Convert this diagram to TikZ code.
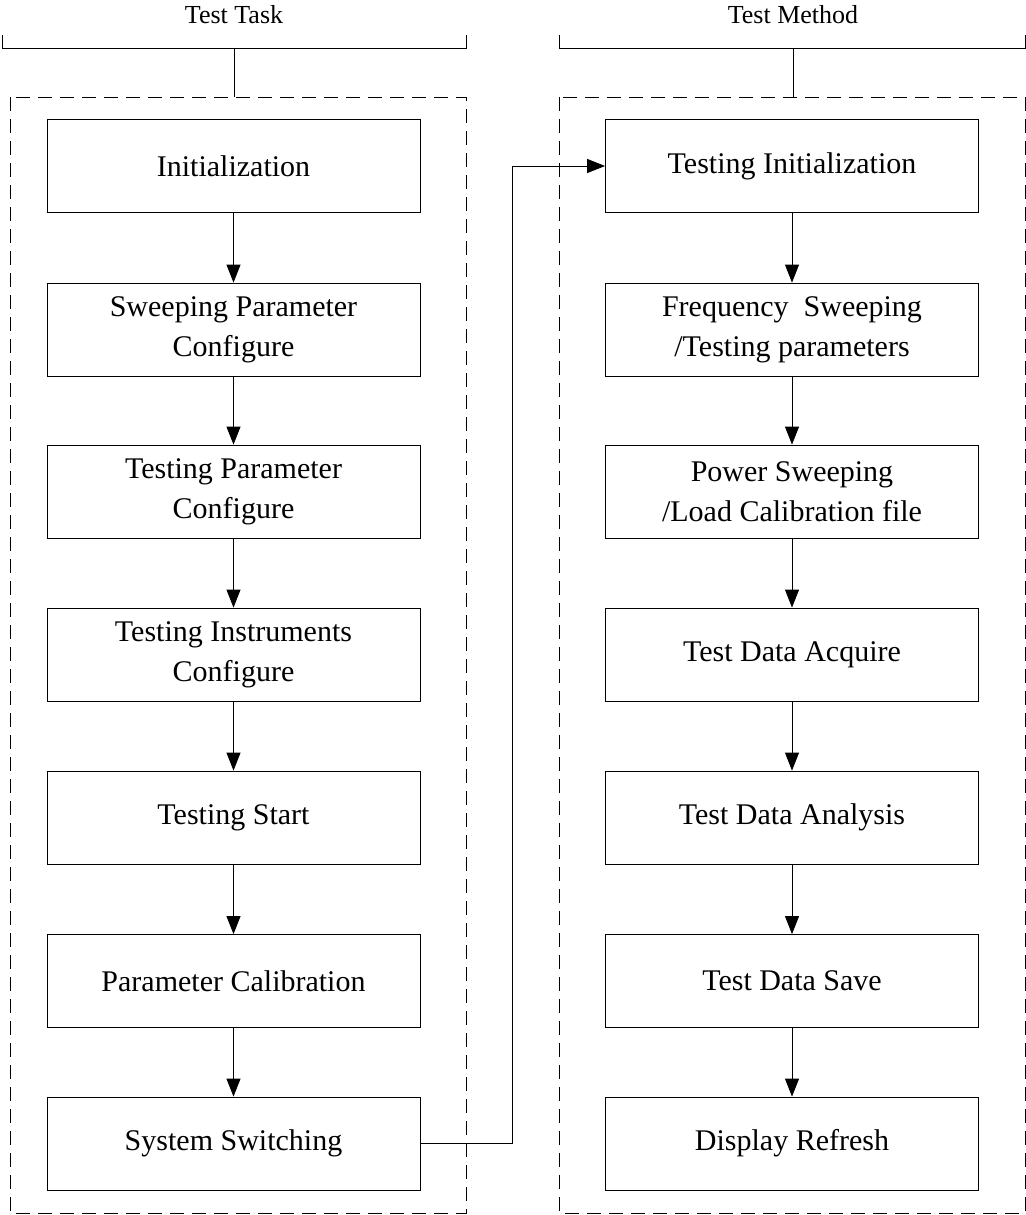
\documentclass[tikz,border=0pt]{standalone}
\usepackage{fontspec}
\setmainfont{Liberation Serif}
\usetikzlibrary{arrows.meta}
\begin{document}
\begin{tikzpicture}[x=0.5pt,y=-0.5pt]
\tikzstyle{stepbox}=[rectangle,draw,minimum width=186.5pt,minimum height=46.5pt,align=center,font=\fontsize{15}{20}\selectfont]
\tikzstyle{flow}=[-{Triangle[length=9pt,width=7pt]}]
\tikzstyle{group}=[draw,dashed,dash pattern=on 7pt off 4pt]
\useasboundingbox (0,0) rectangle (1026,1215);
% group frames
\draw [group] (10,97) rectangle (466,1213);
\draw [group] (559,97) rectangle (1025,1213);
\draw (2,35) -- (2,48) -- (466,48) -- (466,35);
\draw (234,48) -- (234,97);
\draw (559,35) -- (559,48) -- (1025,48) -- (1025,35);
\draw (793,48) -- (793,97);
\node (task) at (234,15) {\fontsize{13}{15}\selectfont Test Task};
\node (method) at (793,15) {\fontsize{13}{15}\selectfont Test Method};
% test task
\node [stepbox] (t1) at (233.5,166) {Initialization};
\node [stepbox] (t2) at (233.5,329.5) {Sweeping Parameter\\Configure};
\node [stepbox] (t3) at (233.5,491.5) {Testing Parameter\\Configure};
\node [stepbox] (t4) at (233.5,654.5) {Testing Instruments\\Configure};
\node [stepbox] (t5) at (233.5,817.5) {Testing Start};
\node [stepbox] (t6) at (233.5,981) {Parameter Calibration};
\node [stepbox] (t7) at (233.5,1143.5) {System Switching};
% test method
\node [stepbox] (m1) at (792,166) {Testing Initialization};
\node [stepbox] (m2) at (792,329.5) {Frequency\ \ Sweeping\\/Testing parameters};
\node [stepbox] (m3) at (792,491.5) {Power Sweeping\\/Load Calibration file};
\node [stepbox] (m4) at (792,654.5) {Test Data Acquire};
\node [stepbox] (m5) at (792,817.5) {Test Data Analysis};
\node [stepbox] (m6) at (792,981) {Test Data Save};
\node [stepbox] (m7) at (792,1143.5) {Display Refresh};
\foreach \a/\b in {1/2,2/3,3/4,4/5,5/6,6/7} {
  \draw [flow] (t\a) -- (t\b);
  \draw [flow] (m\a) -- (m\b);
}
\draw [flow] (t7.east) -| (512,166) -- (m1.west);
\end{tikzpicture}
\end{document}
